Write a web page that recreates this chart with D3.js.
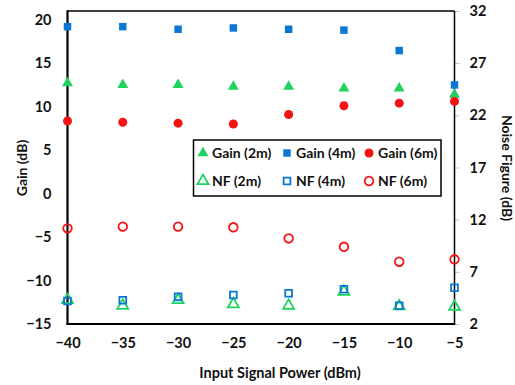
<!DOCTYPE html>
<html><head><meta charset="utf-8">
<script src="https://cdn.jsdelivr.net/npm/d3@7"></script>
<style>html,body{margin:0;padding:0;background:#fff;}svg{display:block;}</style>
</head><body>
<svg id="c" width="515" height="385"></svg>
<script>
const powers = [-40, -35, -30, -25, -20, -15, -10, -5];
const gain2m = [12.7, 12.5, 12.5, 12.3, 12.3, 12.1, 12.1, 11.4];
const gain4m = [19.2, 19.2, 18.9, 19.05, 18.9, 18.8, 16.45, 12.5];
const gain6m = [8.35, 8.2, 8.1, 8.0, 9.1, 10.1, 10.4, 10.6];
const nf2m = [4.3, 3.75, 4.3, 3.9, 3.75, 5.1, 3.7, 3.65];
const nf4m = [4.2, 4.27, 4.6, 4.78, 4.94, 5.33, 3.75, 5.48];
const nf6m = [11.17, 11.33, 11.33, 11.27, 10.2, 9.4, 7.97, 8.2];
const xTicks = [-40, -35, -30, -25, -20, -15, -10, -5];
const gainTicks = [-15, -10, -5, 0, 5, 10, 15, 20];
const nfTicks = [2, 7, 12, 17, 22, 27, 32];

const GREEN = "#1DD35E", BLUE = "#0B76D4", RED = "#F51414";
const FONT = "Lato, 'Open Sans', sans-serif";

const svg = d3.select("#c");
const L = 67.5, R = 454.5, T = 11, B = 324;
const x = d3.scaleLinear().domain([-40, -5]).range([L, R]);
const yG = d3.scaleLinear().domain([-15, 21]).range([B, T]);
const yN = d3.scaleLinear().domain([2, 32]).range([B, T]);

// axes
const gx = svg.append("g").attr("transform", `translate(0,${B})`)
  .call(d3.axisBottom(x).tickValues(xTicks).tickSize(0).tickPadding(14).tickFormat(d3.format("d")));
const gl = svg.append("g").attr("transform", `translate(${L},0)`)
  .call(d3.axisLeft(yG).tickValues(gainTicks).tickSize(4).tickPadding(12).tickFormat(d3.format("d")));
const gr = svg.append("g").attr("transform", `translate(${R},0)`)
  .call(d3.axisRight(yN).tickValues(nfTicks).tickSize(5).tickPadding(10).tickFormat(d3.format("d")));
[gx, gl, gr].forEach(g => {
  g.select(".domain").remove();
  g.selectAll(".tick line").attr("stroke", "#bbb");
  g.selectAll("text").attr("font-family", FONT).attr("font-weight", "bold")
    .attr("font-size", "14.5px").attr("fill", "#111");
});
gl.selectAll(".tick line").attr("stroke", "none");

// frame
svg.append("line").attr("x1", L).attr("x2", R).attr("y1", T).attr("y2", T).attr("stroke", "#000").attr("stroke-width", 1.5);
svg.append("line").attr("x1", R).attr("x2", R).attr("y1", T).attr("y2", B).attr("stroke", "#000").attr("stroke-width", 1.5);
svg.append("line").attr("x1", L).attr("x2", L).attr("y1", T - 0.75).attr("y2", B + 1).attr("stroke", "#000").attr("stroke-width", 2.2);
svg.append("line").attr("x1", L - 1).attr("x2", R + 0.75).attr("y1", B).attr("y2", B).attr("stroke", "#000").attr("stroke-width", 2.2);

// axis titles
svg.append("text").attr("x", 280).attr("y", 378).attr("text-anchor", "middle")
  .attr("font-family", FONT).attr("font-weight", "bold").attr("font-size", "14.5px").attr("fill", "#111")
  .text("Input Signal Power (dBm)");
svg.append("text").attr("transform", "translate(27,168) rotate(-90)").attr("text-anchor", "middle")
  .attr("font-family", FONT).attr("font-weight", "bold").attr("font-size", "14px").attr("fill", "#111")
  .text("Gain (dB)");
svg.append("text").attr("transform", "translate(502,168) rotate(90)").attr("text-anchor", "middle")
  .attr("font-family", FONT).attr("font-weight", "bold").attr("font-size", "14px").attr("fill", "#111")
  .text("Noise Figure (dB)");

// symbols
const sym = {
  tri: d3.symbol().type(d3.symbolTriangle).size(52),
  sq: d3.symbol().type(d3.symbolSquare).size(56),
  circ: d3.symbol().type(d3.symbolCircle).size(64),
  triO: d3.symbol().type(d3.symbolTriangle).size(52),
  sqO: d3.symbol().type(d3.symbolSquare).size(46),
  circO: d3.symbol().type(d3.symbolCircle).size(58)
};
const series = [
  { name: "Gain (2m)", vals: gain2m, y: yG, s: "tri", color: GREEN, filled: true },
  { name: "Gain (4m)", vals: gain4m, y: yG, s: "sq", color: BLUE, filled: true },
  { name: "Gain (6m)", vals: gain6m, y: yG, s: "circ", color: RED, filled: true },
  { name: "NF (2m)", vals: nf2m, y: yN, s: "triO", color: GREEN, filled: false },
  { name: "NF (4m)", vals: nf4m, y: yN, s: "sqO", color: BLUE, filled: false },
  { name: "NF (6m)", vals: nf6m, y: yN, s: "circO", color: RED, filled: false }
];
function styleSym(sel, s) {
  sel.attr("d", sym[s.s]())
    .attr("fill", s.filled ? s.color : "none")
    .attr("stroke", s.filled ? "none" : s.color)
    .attr("stroke-width", s.filled ? 0 : 1.8);
}
series.forEach(s => {
  svg.append("g").selectAll("path").data(s.vals).enter().append("path")
    .attr("transform", (d, i) => `translate(${x(powers[i])},${s.y(d)})`)
    .call(sel => styleSym(sel, s));
});

// legend
const lg = svg.append("g");
lg.append("rect").attr("x", 193.5).attr("y", 140).attr("width", 247.5).attr("height", 56)
  .attr("fill", "#fff").attr("stroke", "#000").attr("stroke-width", 1.5);
const colX = [203, 287, 369];
const rowY = [153, 181];
series.forEach((s, i) => {
  const cx = colX[i % 3], cy = rowY[Math.floor(i / 3)];
  lg.append("path").attr("transform", `translate(${cx},${cy})`).call(sel => styleSym(sel, s));
  lg.append("text").attr("x", cx + 9).attr("y", cy + 5)
    .attr("font-family", FONT).attr("font-weight", "bold").attr("font-size", "14px").attr("fill", "#111")
    .text(s.name);
});
</script>
</body></html>
